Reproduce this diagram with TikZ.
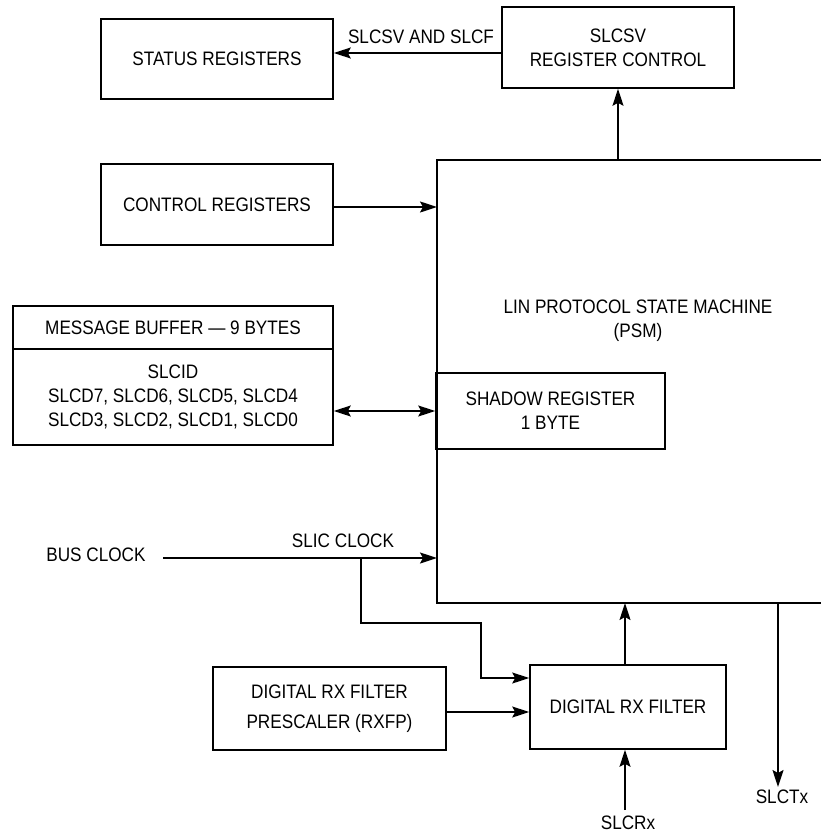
\documentclass[tikz,border=0pt]{standalone}
\usepackage{fontspec}
\setmainfont{Liberation Sans}[FakeStretch=0.88]
\usetikzlibrary{arrows.meta}
\begin{document}
\begin{tikzpicture}[x=1pt,y=-1pt,
  >={Stealth[length=17pt,width=11pt,inset=3pt]},
  every node/.style={font=\fontsize{19.5}{24}\selectfont, inner sep=0pt},
  blk/.style={draw, line width=1.6pt, align=center},
  wire/.style={line width=1.6pt},
  arr/.style={wire,->},
  darr/.style={wire,<->}]
\useasboundingbox (0,0) rectangle (820,835);

% boxes
\node[blk, minimum width=232pt, minimum height=80pt] (status) at (217,59) {STATUS REGISTERS};
\node[blk, minimum width=232pt, minimum height=81pt] (slcsv) at (618,47.5) {SLCSV\\REGISTER CONTROL};
\node[blk, minimum width=232pt, minimum height=81pt] (control) at (217,204.5) {CONTROL REGISTERS};
\node[blk, minimum width=320pt, minimum height=43pt] (msghead) at (173,327.5) {MESSAGE BUFFER — 9 BYTES};
\node[blk, minimum width=320pt, minimum height=96pt] (msgbody) at (173,397) {SLCID\\SLCD7, SLCD6, SLCD5, SLCD4\\SLCD3, SLCD2, SLCD1, SLCD0};
\node[blk, minimum width=229pt, minimum height=76pt] (shadow) at (550.5,411) {SHADOW REGISTER\\1 BYTE};
\node[blk, minimum width=233pt, minimum height=83pt] (presc) at (329.5,708.5) {DIGITAL RX FILTER\\[6pt]PRESCALER (RXFP)};
\node[blk, minimum width=196pt, minimum height=84pt] (rxf) at (628,707) {DIGITAL RX FILTER};

% PSM (right side runs off the picture)
\coordinate (psmTL) at (437,160);
\coordinate (psmBL) at (437,603);
\coordinate (psmTR) at (824,160);
\coordinate (psmBR) at (824,603);
\draw[wire] (psmTR) -- (psmTL) -- (psmBL) -- (psmBR);
\node[align=center] (psmlabel) at (638,321) {LIN PROTOCOL STATE MACHINE\\(PSM)};

% text labels
\node (busclk) at (96,555) {BUS CLOCK};
\node (slicclk) at (343,541) {SLIC CLOCK};
\node (slcsvf) at (421,37) {SLCSV AND SLCF};
\node (slcrx) at (628,823) {SLCRx};
\node (slctx) at (782,797) {SLCTx};

% coordinates for connectors
\coordinate (clkstart) at (163,558);
\coordinate (clkend) at (437,558);
\coordinate (branch) at (361,558);
\coordinate (rxin) at (625,810);
\coordinate (txout) at (778,787);

% connectors
\draw[arr] (slcsv.west |- 0,53) -- (status.east |- 0,53);
\draw[arr] (618,160) -- (slcsv.south);
\draw[arr] (control.east |- 0,207) -- (psmTL |- 0,207);
\draw[darr] (msgbody.east |- shadow.west) -- (shadow.west);
\draw[arr] (clkstart) -- (clkend);
\draw[arr] (branch) -- (361,623) -- (481,623) -- (481,678) -- (rxf.west |- 0,678);
\draw[arr] (presc.east |- 0,712) -- (rxf.west |- 0,712);
\draw[arr] (rxf.north -| rxin) -- (rxin |- psmBL);
\draw[arr] (rxin) -- (rxf.south -| rxin);
\draw[arr] (txout |- psmBL) -- (txout);
\end{tikzpicture}
\end{document}
